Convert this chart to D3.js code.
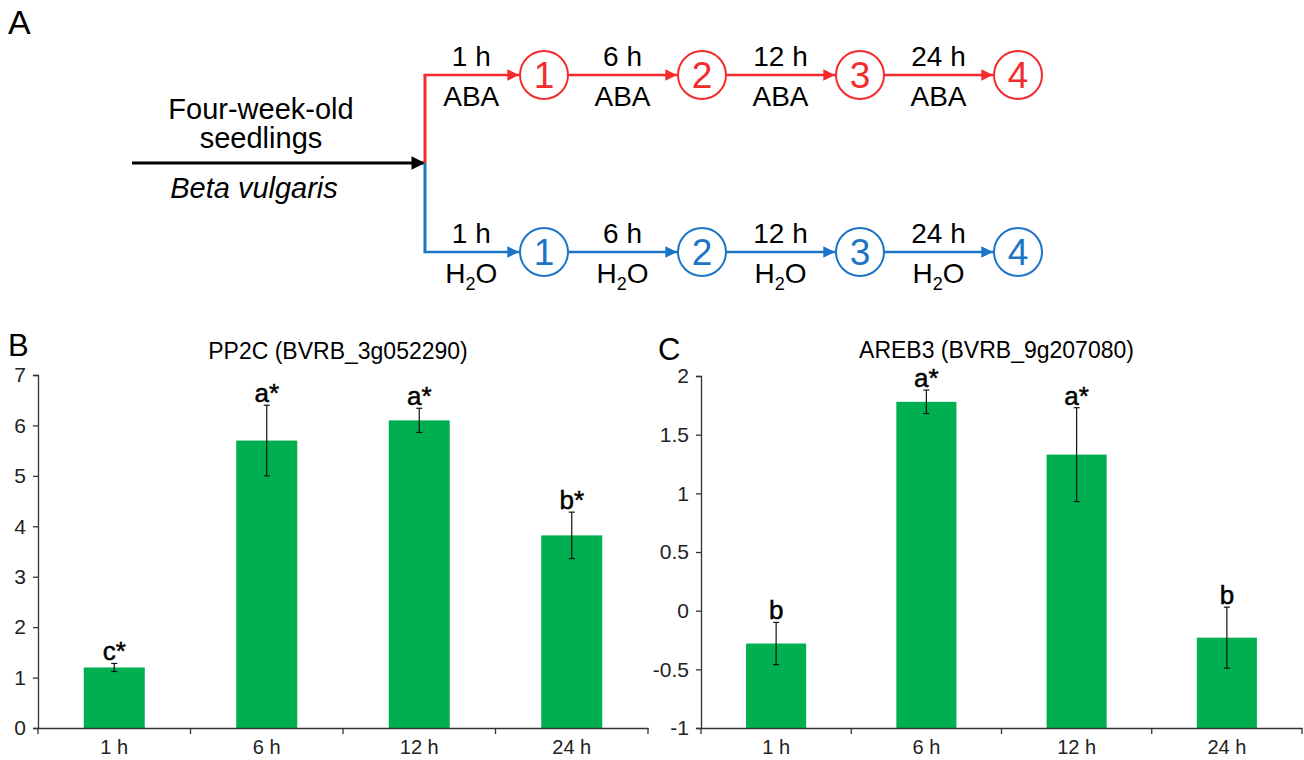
<!DOCTYPE html>
<html>
<head>
<meta charset="utf-8">
<script src="https://cdn.jsdelivr.net/npm/d3@7"></script>
<style>
  body { margin: 0; background: #fff; }
  text { font-family: Arial, "Liberation Sans", sans-serif; }
</style>
</head>
<body>
<div id="fig"></div>
<script>
const WIDTH = 1304;
const HEIGHT = 760;

// panel A: treatment scheme
const timepoints = ["1 h", "6 h", "12 h", "24 h"];
const stages = [1, 2, 3, 4];
const treatments = ["ABA", "H2O"];

// panels B and C: expression data
const categories = ["1 h", "6 h", "12 h", "24 h"];
const pp2cValues = [1.2, 5.7, 6.1, 3.82];
const pp2cErrors = [0.08, 0.7, 0.24, 0.46];
const pp2cLetters = ["c*", "a*", "a*", "b*"];
const pp2cTicks = [0, 1, 2, 3, 4, 5, 6, 7];

const areb3Values = [-0.28, 1.78, 1.33, -0.23];
const areb3Errors = [0.18, 0.1, 0.4, 0.26];
const areb3Letters = ["b", "a*", "a*", "b"];
const areb3Ticks = [-1, -0.5, 0, 0.5, 1, 1.5, 2];

const RED = "#f42b2b";
const BLUE = "#1b74c5";
const GREEN = "#00b050";

const svg = d3.select("#fig")
  .append("svg")
    .attr("width", WIDTH)
    .attr("height", HEIGHT);

// arrow markers
const defs = svg.append("defs");
[["arrBlack", "#000"], ["arrRed", RED], ["arrBlue", BLUE]].forEach(([id, c]) => {
  defs.append("marker")
      .attr("id", id)
      .attr("viewBox", "0 0 10 10")
      .attr("refX", 10).attr("refY", 5)
      .attr("markerWidth", 5).attr("markerHeight", 4.5)
      .attr("orient", "auto")
    .append("path")
      .attr("d", "M0,0 L10,5 L0,10 Z")
      .attr("fill", c);
});

// panel letters
svg.append("text").attr("x", 8).attr("y", 34).attr("font-size", 34).text("A");
svg.append("text").attr("x", 8).attr("y", 356).attr("font-size", 31).text("B");
svg.append("text").attr("x", 658).attr("y", 360).attr("font-size", 31).text("C");

// ---------- panel A ----------
const SPLIT_X = 425;
const mainY = 163;
const rowY = {ABA: 75, H2O: 252};
const rowColor = {ABA: RED, H2O: BLUE};
const R = 24;
const FS = 28;

const nodeX = d3.scalePoint().domain(stages).range([544, 1018]);

svg.append("line")
    .attr("x1", 132).attr("x2", SPLIT_X)
    .attr("y1", mainY).attr("y2", mainY)
    .attr("stroke", "#000").attr("stroke-width", 3)
    .attr("marker-end", "url(#arrBlack)");

svg.append("text").attr("x", 261).attr("y", 119).attr("text-anchor", "middle")
   .attr("font-size", 29).text("Four-week-old");
svg.append("text").attr("x", 261).attr("y", 148).attr("text-anchor", "middle")
   .attr("font-size", 29).text("seedlings");
svg.append("text").attr("x", 254).attr("y", 198).attr("text-anchor", "middle")
   .attr("font-size", 29).attr("font-style", "italic").text("Beta vulgaris");

svg.append("line").attr("x1", SPLIT_X).attr("x2", SPLIT_X)
   .attr("y1", rowY.ABA).attr("y2", mainY)
   .attr("stroke", RED).attr("stroke-width", 3);
svg.append("line").attr("x1", SPLIT_X).attr("x2", SPLIT_X)
   .attr("y1", mainY).attr("y2", rowY.H2O)
   .attr("stroke", BLUE).attr("stroke-width", 3);

treatments.forEach(t => {
  const y = rowY[t];
  const col = rowColor[t];
  const g = svg.append("g");
  stages.forEach((s, i) => {
    const x0 = i === 0 ? SPLIT_X - 1.5 : nodeX(stages[i - 1]) + R;
    const x1 = nodeX(s) - R - 1;
    g.append("line")
      .attr("x1", x0).attr("x2", x1)
      .attr("y1", y).attr("y2", y)
      .attr("stroke", col).attr("stroke-width", 2.6)
      .attr("marker-end", t === "ABA" ? "url(#arrRed)" : "url(#arrBlue)");
    const mid = (x0 + x1) / 2;
    g.append("text").attr("x", mid).attr("y", y - 9)
      .attr("text-anchor", "middle").attr("font-size", FS).text(timepoints[i]);
    const lbl = g.append("text").attr("x", mid).attr("y", y + 31)
      .attr("text-anchor", "middle").attr("font-size", FS);
    if (t === "ABA") {
      lbl.text("ABA");
    } else {
      lbl.append("tspan").text("H");
      lbl.append("tspan").attr("font-size", 18).attr("dy", 7).text("2");
      lbl.append("tspan").attr("dy", -7).text("O");
    }
    g.append("circle")
      .attr("cx", nodeX(s)).attr("cy", y).attr("r", R)
      .attr("fill", "#fff").attr("stroke", col).attr("stroke-width", 2);
    g.append("text").attr("x", nodeX(s)).attr("y", y + 13)
      .attr("text-anchor", "middle").attr("font-size", 37)
      .attr("fill", col).text(s);
  });
});

// ---------- bar panels ----------
function barPanel(cfg) {
  const x = d3.scaleBand()
    .domain(categories)
    .range([cfg.left, cfg.right])
    .paddingInner(0.6)
    .paddingOuter(0.3);
  const y = d3.scaleLinear()
    .domain(cfg.domain)
    .range([cfg.bottom, cfg.top]);

  const g = svg.append("g");

  g.append("text")
    .attr("x", (cfg.left + cfg.right) / 2 - 5)
    .attr("y", cfg.titleY)
    .attr("text-anchor", "middle")
    .attr("font-size", 23)
    .text(cfg.title);

  const data = categories.map((c, i) => ({
    c: c, v: cfg.values[i], e: cfg.errors[i], l: cfg.letters[i]
  }));

  g.selectAll(".bar")
    .data(data)
    .join("rect")
      .attr("x", d => x(d.c))
      .attr("width", x.bandwidth())
      .attr("y", d => y(d.v))
      .attr("height", d => y(cfg.domain[0]) - y(d.v))
      .attr("fill", GREEN);

  // y axis
  const yAxis = g.append("g")
    .attr("transform", `translate(${cfg.left},0)`)
    .call(d3.axisLeft(y).tickValues(cfg.ticks).tickSize(5).tickPadding(7)
      .tickFormat(d => String(d)));
  yAxis.attr("font-size", 21).attr("font-family", "Arial, 'Liberation Sans', sans-serif");
  yAxis.select(".domain").attr("stroke", "#333").attr("stroke-width", 1.3);
  yAxis.selectAll(".tick line").attr("stroke", "#333").attr("stroke-width", 1.3);
  yAxis.selectAll(".tick text").attr("fill", "#222");

  // x axis with ticks at category boundaries
  const xAxis = g.append("g")
    .attr("transform", `translate(0,${cfg.bottom})`)
    .call(d3.axisBottom(x).tickSize(0).tickPadding(12));
  xAxis.attr("font-size", 20).attr("font-family", "Arial, 'Liberation Sans', sans-serif");
  xAxis.select(".domain").attr("stroke", "#333").attr("stroke-width", 1.3);
  xAxis.selectAll(".tick text").attr("fill", "#222");
  const step = x.step();
  g.selectAll(".xsep")
    .data(d3.range(categories.length + 1))
    .join("line")
      .attr("x1", i => cfg.left + i * step)
      .attr("x2", i => cfg.left + i * step)
      .attr("y1", cfg.bottom).attr("y2", cfg.bottom + 6)
      .attr("stroke", "#333").attr("stroke-width", 1.3);

  // error bars
  const cx = d => x(d.c) + x.bandwidth() / 2;
  g.selectAll(".err")
    .data(data)
    .join("line")
      .attr("x1", cx).attr("x2", cx)
      .attr("y1", d => y(d.v - d.e)).attr("y2", d => y(d.v + d.e))
      .attr("stroke", "#111").attr("stroke-width", 1.2);
  [1, -1].forEach(sgn => {
    g.selectAll(".cap" + sgn)
      .data(data)
      .join("line")
        .attr("x1", d => cx(d) - 3).attr("x2", d => cx(d) + 3)
        .attr("y1", d => y(d.v + sgn * d.e)).attr("y2", d => y(d.v + sgn * d.e))
        .attr("stroke", "#111").attr("stroke-width", 1.2);
  });

  g.selectAll(".letter")
    .data(data)
    .join("text")
      .attr("x", cx)
      .attr("y", d => y(d.v + d.e) - 3)
      .attr("text-anchor", "middle")
      .attr("font-size", 26)
      .attr("stroke", "#000")
      .attr("stroke-width", 0.5)
      .text(d => d.l);
}

barPanel({
  left: 38, right: 648, top: 375, bottom: 728,
  domain: [0, 7], ticks: pp2cTicks,
  values: pp2cValues, errors: pp2cErrors, letters: pp2cLetters,
  title: "PP2C (BVRB_3g052290)", titleY: 359
});

barPanel({
  left: 701, right: 1302, top: 376, bottom: 728,
  domain: [-1, 2], ticks: areb3Ticks,
  values: areb3Values, errors: areb3Errors, letters: areb3Letters,
  title: "AREB3 (BVRB_9g207080)", titleY: 358
});
</script>
</body>
</html>
